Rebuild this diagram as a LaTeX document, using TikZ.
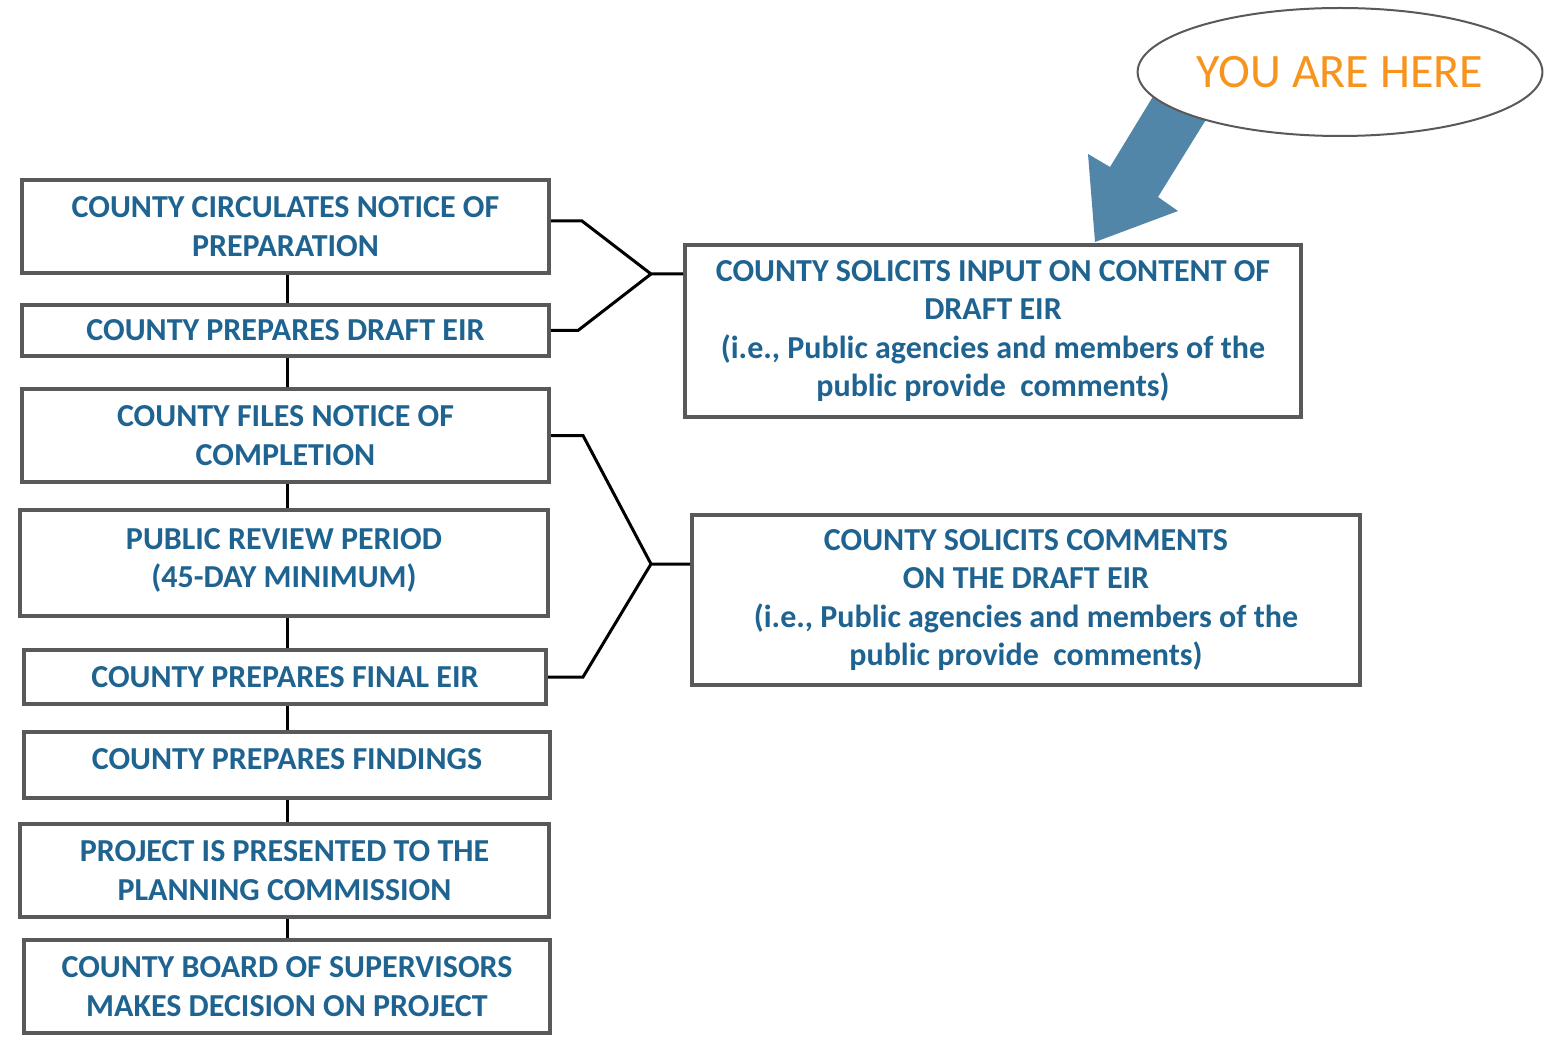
\documentclass[tikz,border=0pt]{standalone}
\usepackage{fontspec}
\setmainfont{Carlito}
\usetikzlibrary{calc,shapes.geometric}
\definecolor{boxgray}{HTML}{595959}
\definecolor{textblue}{HTML}{1F6391}
\definecolor{arrowblue}{HTML}{5186A9}
\definecolor{youorange}{HTML}{F7941D}
\tikzset{
  stepbox/.style={draw=boxgray, line width=2pt, fill=white, align=center,
    inner sep=2pt, text=textblue, font=\fontsize{16}{19.3}\selectfont\bfseries},
  link/.style={black, line width=1.5pt}
}

\begin{document}
\begin{tikzpicture}[x=0.5pt, y=-0.5pt]
    \useasboundingbox (0,0) rectangle (1551,1037);

    % left column
    \node[stepbox, minimum width=263.5pt, minimum height=46.5pt] (notice) at (285.5,226.5)
      {COUNTY CIRCULATES NOTICE OF\\PREPARATION};
    \node[stepbox, minimum width=263.5pt, minimum height=25.5pt] (draft) at (285.5,330.5)
      {COUNTY PREPARES DRAFT EIR};
    \node[stepbox, minimum width=263.5pt, minimum height=46.5pt] (completion) at (285.5,435.5)
      {COUNTY FILES NOTICE OF\\COMPLETION};
    \node[stepbox, minimum width=264pt, minimum height=53pt, text depth=5pt] (review) at (284,563)
      {PUBLIC REVIEW PERIOD\\(45-DAY MINIMUM)};
    \node[stepbox, minimum width=261pt, minimum height=27pt] (final) at (285,677)
      {COUNTY PREPARES FINAL EIR};
    \node[stepbox, minimum width=263pt, minimum height=33pt, text depth=6pt] (findings) at (287,765)
      {COUNTY PREPARES FINDINGS};
    \node[stepbox, minimum width=264.5pt, minimum height=46.5pt] (planning) at (284.5,870.5)
      {PROJECT IS PRESENTED TO THE\\PLANNING COMMISSION};
    \node[stepbox, minimum width=263pt, minimum height=46.5pt] (board) at (287,986.5)
      {COUNTY BOARD OF SUPERVISORS\\MAKES DECISION ON PROJECT};

    % right column
    \node[stepbox, minimum width=308pt, minimum height=86pt] (input) at (993,331)
      {COUNTY SOLICITS INPUT ON CONTENT OF\\DRAFT EIR\\(i.e., Public agencies and members of the\\public provide~ comments)};
    \node[stepbox, minimum width=334pt, minimum height=85pt] (comments) at (1026,600)
      {COUNTY SOLICITS COMMENTS\\ON THE DRAFT EIR\\(i.e., Public agencies and members of the\\public provide~ comments)};

    % steps
    \foreach \a/\b in {notice/draft, draft/completion, completion/review, review/final,
                       final/findings, findings/planning, planning/board}
      \draw[link] (287,0 |- \a.south) -- (287,0 |- \b.north);

    % brackets
    \coordinate (joinA) at (651,274);
    \coordinate (joinB) at (651,564);
    \draw[link] ([yshift=2.75pt]notice.east) -- ++(31,0) -- (joinA) -- (joinA -| input.west);
    \draw[link] (draft.east) -- ++(27,0) -- (joinA);
    \draw[link] (completion.east) -- ++(32,0) -- (joinB) -- (joinB -| comments.west);
    \draw[link] (final.east) -- ++(35,0) -- (joinB);

    % you are here
    \fill[arrowblue] (1160,85) -- (1110,167) -- (1088,154) -- (1095,242)
      -- (1178,211) -- (1158,197) -- (1215,105) -- cycle;
    \node[ellipse, draw=boxgray, line width=1pt, fill=white, inner sep=0pt,
      minimum width=202pt, minimum height=64pt, text=youorange,
      font=\fontsize{24}{28}\selectfont] (here) at (1340,72) {YOU ARE HERE};
\end{tikzpicture}
\end{document}
